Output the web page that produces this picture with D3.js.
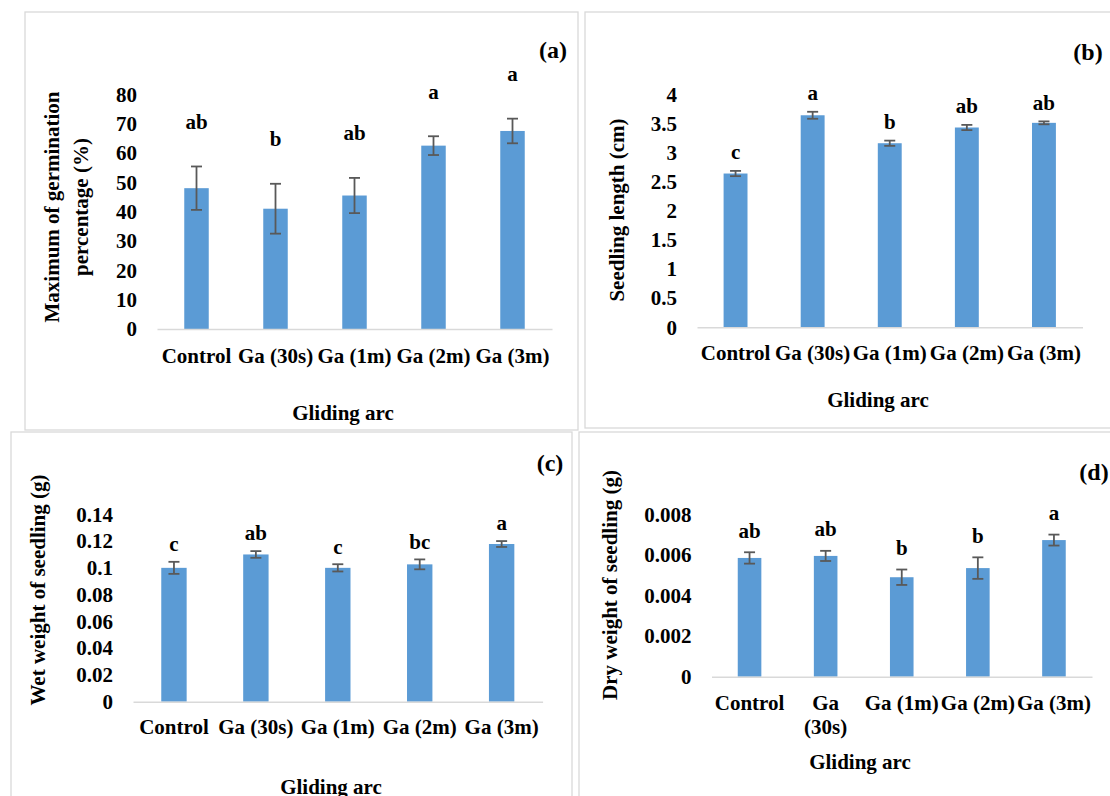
<!DOCTYPE html>
<html>
<head>
<meta charset="utf-8">
<script src="https://cdn.jsdelivr.net/npm/d3@7"></script>
<style>
  body { margin: 0; background: #fff; }
  svg { display: block; }
  text { font-family: "Liberation Serif", "Times New Roman", serif; font-weight: bold; fill: #000; }
</style>
</head>
<body>
<svg id="chart" width="1110" height="796"></svg>
<script>
// --- data ---
const categories = ["Control", "Ga (30s)", "Ga (1m)", "Ga (2m)", "Ga (3m)"];
const dryCategoryLines = [["Control"], ["Ga", "(30s)"], ["Ga (1m)"], ["Ga (2m)"], ["Ga (3m)"]];

const germValues = [48, 41, 45.5, 62.5, 67.5];
const germErrors = [7.4, 8.5, 6, 3.2, 4.2];
const germLetters = ["ab", "b", "ab", "a", "a"];
const germTicks = [0, 10, 20, 30, 40, 50, 60, 70, 80];

const lengthValues = [2.64, 3.64, 3.16, 3.43, 3.51];
const lengthErrors = [0.045, 0.06, 0.045, 0.045, 0.025];
const lengthLetters = ["c", "a", "b", "ab", "ab"];
const lengthTicks = [0, 0.5, 1, 1.5, 2, 2.5, 3, 3.5, 4];

const wetValues = [0.1, 0.11, 0.1, 0.1026, 0.1178];
const wetErrors = [0.0045, 0.0025, 0.0027, 0.0037, 0.0022];
const wetLetters = ["c", "ab", "c", "bc", "a"];
const wetTicks = [0, 0.02, 0.04, 0.06, 0.08, 0.1, 0.12, 0.14];

const dryValues = [0.00585, 0.00595, 0.0049, 0.00535, 0.00673];
const dryErrors = [0.00028, 0.00025, 0.00038, 0.00053, 0.00027];
const dryLetters = ["ab", "ab", "b", "b", "a"];
const dryTicks = [0, 0.002, 0.004, 0.006, 0.008];

// --- panel layout ---
const panels = [
  {
    tag: "(a)", values: germValues, errors: germErrors, letters: germLetters, ticks: germTicks,
    yTitle: ["Maximum of germination", "percentage (%)"], yTitleX: [52, 81], yTitleY: 207,
    frame: [25, 12, 553, 418], left: 157, right: 552, base: 329, top: 94.3,
    xPad: 18.6, letterGap: 45, tagPos: [553, 50], xTitlePos: [343, 413]
  },
  {
    tag: "(b)", values: lengthValues, errors: lengthErrors, letters: lengthLetters, ticks: lengthTicks,
    yTitle: ["Seedling length (cm)"], yTitleX: [617], yTitleY: 210,
    frame: [585, 12, 540, 416], left: 697, right: 1082.5, base: 327.3, top: 94.3,
    xPad: 17.6, letterGap: 19, tagPos: [1088, 52], xTitlePos: [878, 400]
  },
  {
    tag: "(c)", values: wetValues, errors: wetErrors, letters: wetLetters, ticks: wetTicks,
    yTitle: ["Wet weight of seedling (g)"], yTitleX: [38], yTitleY: 590,
    frame: [11, 432, 561, 380], left: 133, right: 542.6, base: 701.7, top: 514.3,
    xPad: 17.6, letterGap: 18, tagPos: [550, 463], xTitlePos: [331, 787]
  },
  {
    tag: "(d)", values: dryValues, errors: dryErrors, letters: dryLetters, ticks: dryTicks,
    lines: dryCategoryLines,
    yTitle: ["Dry weight of seedling (g)"], yTitleX: [610], yTitleY: 585,
    frame: [579, 432, 560, 380], left: 711.5, right: 1092, base: 676.7, top: 514.3,
    xPad: 18.2, letterGap: 22, tagPos: [1094, 472], xTitlePos: [860, 762]
  }
];

const svg = d3.select("#chart");
const fmt = d3.format("~g");

function drawPanel(p) {
  const g = svg.append("g");

  // frame around the panel
  g.append("rect")
    .attr("x", p.frame[0]).attr("y", p.frame[1])
    .attr("width", p.frame[2]).attr("height", p.frame[3])
    .attr("fill", "none").attr("stroke", "#d9d9d9").attr("stroke-width", 1.3);

  const x = d3.scaleBand().domain(categories).range([p.left, p.right])
    .paddingInner(0.69).paddingOuter(0.345);
  const y = d3.scaleLinear().domain([0, d3.max(p.ticks)]).range([p.base, p.top]);

  // y axis (labels only)
  const yAxis = g.append("g")
    .attr("transform", `translate(${p.left},0)`)
    .call(d3.axisLeft(y).tickValues(p.ticks).tickFormat(fmt).tickSize(0).tickPadding(20))
    .style("font-size", "21px");
  yAxis.select(".domain").remove();

  // bars
  g.selectAll(".bar")
    .data(p.values)
    .join("rect")
    .attr("class", "bar")
    .attr("x", (d, i) => x(categories[i]))
    .attr("y", (d) => y(d))
    .attr("width", x.bandwidth())
    .attr("height", (d) => p.base - y(d))
    .attr("fill", "#5b9bd5");

  // x axis
  const xAxis = g.append("g")
    .attr("transform", `translate(0,${p.base})`)
    .call(d3.axisBottom(x).tickSize(0).tickSizeOuter(0).tickPadding(p.xPad))
    .style("font-size", "21px");
  xAxis.select(".domain").attr("stroke", "#d9d9d9").attr("stroke-width", 1.5);
  if (p.lines) {
    xAxis.selectAll(".tick text").each(function (d, i) {
      const t = d3.select(this).text(null);
      p.lines[i].forEach((s, k) => {
        t.append("tspan").attr("x", 0).attr("dy", k ? "1.16em" : null).text(s);
      });
    });
  }

  // error bars
  const eb = g.selectAll(".err")
    .data(p.values)
    .join("g")
    .attr("class", "err")
    .attr("stroke", "#595959")
    .attr("stroke-width", 1.8);
  const cx = (i) => x(categories[i]) + x.bandwidth() / 2;
  eb.append("line")
    .attr("x1", (d, i) => cx(i)).attr("x2", (d, i) => cx(i))
    .attr("y1", (d, i) => y(d + p.errors[i])).attr("y2", (d, i) => y(d - p.errors[i]));
  eb.append("line")
    .attr("x1", (d, i) => cx(i) - 5.5).attr("x2", (d, i) => cx(i) + 5.5)
    .attr("y1", (d, i) => y(d + p.errors[i])).attr("y2", (d, i) => y(d + p.errors[i]));
  eb.append("line")
    .attr("x1", (d, i) => cx(i) - 5.5).attr("x2", (d, i) => cx(i) + 5.5)
    .attr("y1", (d, i) => y(d - p.errors[i])).attr("y2", (d, i) => y(d - p.errors[i]));

  // significance letters
  g.selectAll(".letter")
    .data(p.letters)
    .join("text")
    .attr("class", "letter")
    .attr("x", (d, i) => cx(i))
    .attr("y", (d, i) => y(p.values[i] + p.errors[i]) - p.letterGap)
    .attr("dy", "0.35em")
    .attr("text-anchor", "middle")
    .style("font-size", "21px")
    .text((d) => d);

  // y title
  p.yTitle.forEach((s, k) => {
    g.append("text")
      .attr("transform", `translate(${p.yTitleX[k]},${p.yTitleY}) rotate(-90)`)
      .attr("dy", "0.35em")
      .attr("text-anchor", "middle")
      .style("font-size", "21px")
      .text(s);
  });

  // x title
  g.append("text")
    .attr("x", p.xTitlePos[0]).attr("y", p.xTitlePos[1])
    .attr("dy", "0.35em")
    .attr("text-anchor", "middle")
    .style("font-size", "21px")
    .text("Gliding arc");

  // panel tag
  g.append("text")
    .attr("x", p.tagPos[0]).attr("y", p.tagPos[1])
    .attr("dy", "0.35em")
    .attr("text-anchor", "middle")
    .style("font-size", "24px")
    .text(p.tag);
}

panels.forEach(drawPanel);
</script>
</body>
</html>
